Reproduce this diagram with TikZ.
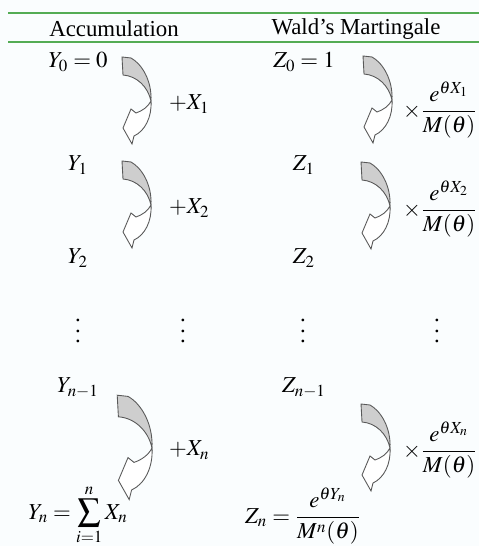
\documentclass[tikz,border=0pt]{standalone}
\usepackage{amsmath}
\usepackage{mathptmx}
\usepackage[no-math]{fontspec}
\setmainfont{Liberation Serif}
\usepackage{tikz}
\definecolor{rulegreen}{RGB}{84,172,84}
\definecolor{bandgray}{RGB}{206,206,206}
\definecolor{paper}{RGB}{250,253,254}
\newcommand\colvdots{\vbox{\baselineskip6.2pt\lineskiplimit0pt\hbox{.}\hbox{.}\hbox{.}}}

\begin{document}
\begin{tikzpicture}[x=0.02cm,y=-0.02cm,
  every node/.style={font=\fontsize{13}{15}\selectfont, inner sep=1pt},
  band/.style={draw=black!65, line width=0.5pt, fill=bandgray},
  head/.style={draw=black!65, line width=0.5pt, fill=white},
  rule/.style={draw=rulegreen}]
\useasboundingbox[fill=paper] (0,0) rectangle (479,546);
% table rules
\draw[rule, line width=1.1pt] (8,13) -- (479,13);
\draw[rule, line width=0.8pt] (8,42) -- (479,42);
\node (hacc) at (114,29) {Accumulation};
\node (hwald) at (356,29) {Wald's Martingale};
% the two columns
\foreach \nm/\py/\tx in {y0/62/{$Y_0=0$}, y1/165/{$Y_1$}, y2/258/{$Y_2$}, yn1/388/{$Y_{n-1}$}}
  \node (\nm) at (78,\py) {\tx};
\foreach \nm/\py/\tx in {z0/62/{$Z_0=1$}, z1/165/{$Z_1$}, z2/258/{$Z_2$}, zn1/388/{$Z_{n-1}$}}
  \node (\nm) at (304,\py) {\tx};
\foreach \nm/\px in {ydots/78, xdots/183, zdots/303, fdots/437}
  \node (\nm) at (\px,331) {\colvdots};
% curved arrows: pinch point, scale
\foreach \ax/\ay/\s in {151/101/1, 151/205/1, 152/448/1.2, 392/100/1, 390/206/1, 390/448/1} {
 \begin{scope}[shift={(\ax,\ay)},scale=\s]
  \draw[band] (-29,-44) -- (-20,-43) .. controls (-9,-37) and (1,-20) .. (0,0)
     .. controls (-3,-14) and (-14,-25) .. (-28,-26) -- cycle;
  \draw[head] (0,0) .. controls (-3,6) and (-9,10) .. (-15,12) -- (-20,8) -- (-28,27)
     -- (-19,43) -- (-17,35) .. controls (-6,30) and (1,16) .. (0,0) -- cycle;
 \end{scope}
}
\foreach \nm/\py/\k in {a1/104/1, a2/208/2, an/450/n}
  \node[anchor=west] (\nm) at (167,\py) {$+X_{\k}$};
\foreach \nm/\py/\k in {m1/110/1, m2/209/2, mn/450/n}
  \node[anchor=west] (\nm) at (401,\py) {$\times\dfrac{e^{\theta X_{\k}}}{M(\theta)}$};
\node (yn) at (78,515) {$\displaystyle Y_n=\sum_{i=1}^{n}X_n$};
\node (zn) at (303,516) {$Z_n=\dfrac{e^{\theta Y_n}}{M^n(\theta)}$};
\end{tikzpicture}
\end{document}
